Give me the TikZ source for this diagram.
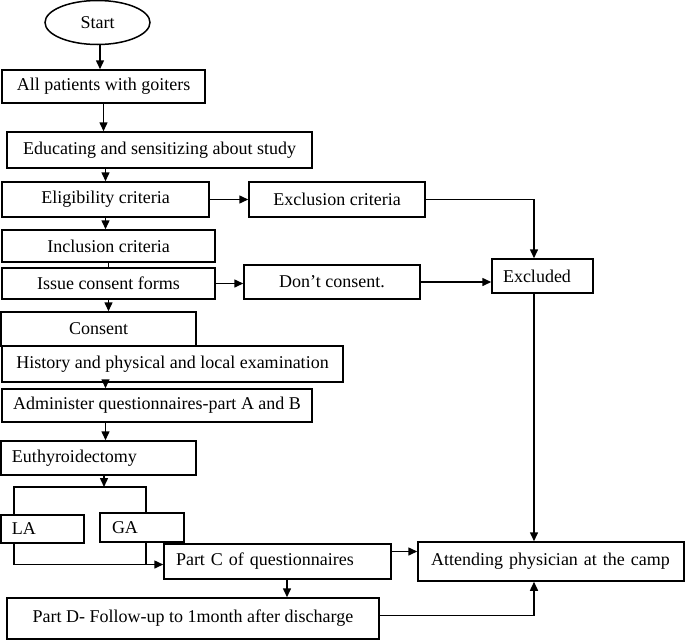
\documentclass[tikz,border=0pt]{standalone}
\usepackage{fontspec}
\setmainfont{Liberation Serif}
\usetikzlibrary{arrows.meta,shapes.geometric}
\tikzset{
  box/.style={draw, line width=1.5pt, rectangle, inner sep=0pt, font=\fontsize{18}{21}\selectfont, anchor=center},
  lbox/.style={box, align=left, inner xsep=#1},
  arr/.style={line width=1.5pt, -{Triangle[length=9pt,width=8pt]}},
  ln/.style={line width=1.5pt}
}
\begin{document}
\begin{tikzpicture}[x=1pt,y=-1pt]
\useasboundingbox (0,0) rectangle (685,640);
% nodes
\node[draw, line width=1.5pt, ellipse, minimum width=105pt, minimum height=44pt, inner sep=0pt, font=\fontsize{18}{21}\selectfont] (start) at (97.5,22.5) {Start};
\node[box, minimum width=203pt, minimum height=33pt] (b1) at (103.5,86.5) {All patients with goiters};
\node[box, minimum width=305pt, minimum height=36pt] (b2) at (159.5,150) {Educating and sensitizing about study};
\node[box, minimum width=207pt, minimum height=35pt] (elig) at (105.5,199.5) {Eligibility criteria};
\node[box, minimum width=176pt, minimum height=35pt] (excl) at (337,199.5) {Exclusion criteria};
\node[box, minimum width=213pt, minimum height=32pt] (incl) at (108.5,246) {Inclusion criteria};
\node[box, minimum width=213pt, minimum height=31pt] (issue) at (108.5,283.5) {Issue consent forms};
\node[box, minimum width=176pt, minimum height=34pt] (dont) at (332,282) {Don’t consent.};
\node[box, minimum width=195pt, minimum height=34pt] (consent) at (98.5,329) {Consent};
\node[box, minimum width=341pt, minimum height=36pt] (hist) at (172.5,364) {History and physical and local examination};
\node[box, minimum width=310pt, minimum height=33pt] (admin) at (157,405.5) {Administer questionnaires-part A and B};
\node[lbox=11pt, text width=173pt, minimum height=34pt] (euth) at (98.5,458) {Euthyroidectomy};
\node[lbox=11pt, text width=61pt, minimum height=28pt] (la) at (42.5,529) {LA};
\node[lbox=12pt, text width=60pt, minimum height=29pt] (ga) at (142,527.5) {GA};
\node[lbox=12pt, text width=203pt, minimum height=35pt] (partc) at (277.5,561.5) {Part C of questionnaires};
\node[box, minimum width=372pt, minimum height=41pt] (partd) at (193,618.5) {Part D- Follow-up to 1month after discharge};
\node[lbox=13pt, text width=240pt, minimum height=39pt] (attend) at (551,561.5) {Attending physician at the camp};
\node[lbox=11pt, text width=79pt, minimum height=34pt] (excluded) at (542.5,276) {Excluded};
% helper coordinates
\coordinate (sx) at (100,0);
\coordinate (br) at (104,487);
\coordinate (bl) at (14,487);
\coordinate (brr) at (146,487);
\coordinate (colx) at (534,0);
\coordinate (cx) at (287,0);
\coordinate (jn) at ([yshift=-3pt]partc.west);
\coordinate (pcr) at ([yshift=10pt]partc.east);
\coordinate (pdr) at ([yshift=3pt]partd.east);
% connectors
\draw[arr] (start.south -| sx) -- (sx |- b1.north);
\draw[arr] (b1.south) -- (b1.south |- b2.north);
\draw[arr] (elig.north |- b2.south) -- (elig.north);
\draw[arr] (elig.east) -- (excl.west);
\draw[arr] (elig.south) -- (elig.south |- incl.north);
\draw[ln] (incl.south) -- (issue.north);
\draw[arr] (issue.east) -- (issue.east -| dont.west);
\draw[arr] (issue.south) -- (issue.south |- consent.north);
\draw[arr] (hist.south -| elig.south) -- (admin.north -| elig.south);
\draw[arr] (admin.south -| elig.south) -- (euth.north -| elig.south);
\draw[arr] (euth.south -| br) -- (br);
\draw[ln] (la.north -| bl) -- (bl) -- (brr) -- (ga.north -| brr);
\draw[arr] (la.south -| bl) |- (jn);
\draw[ln] (ga.south -| brr) -- (brr |- jn);
\draw[arr] (partc.south -| cx) -- (partd.north -| cx);
\draw[arr] (pcr) -- (pcr -| attend.west);
\draw[arr] (pdr) -| (colx |- attend.south);
\draw[arr] (excl.east) -| (colx |- excluded.north);
\draw[arr] (dont.east) -- (dont.east -| excluded.west);
\draw[arr] (colx |- excluded.south) -- (colx |- attend.north);
\end{tikzpicture}
\end{document}
